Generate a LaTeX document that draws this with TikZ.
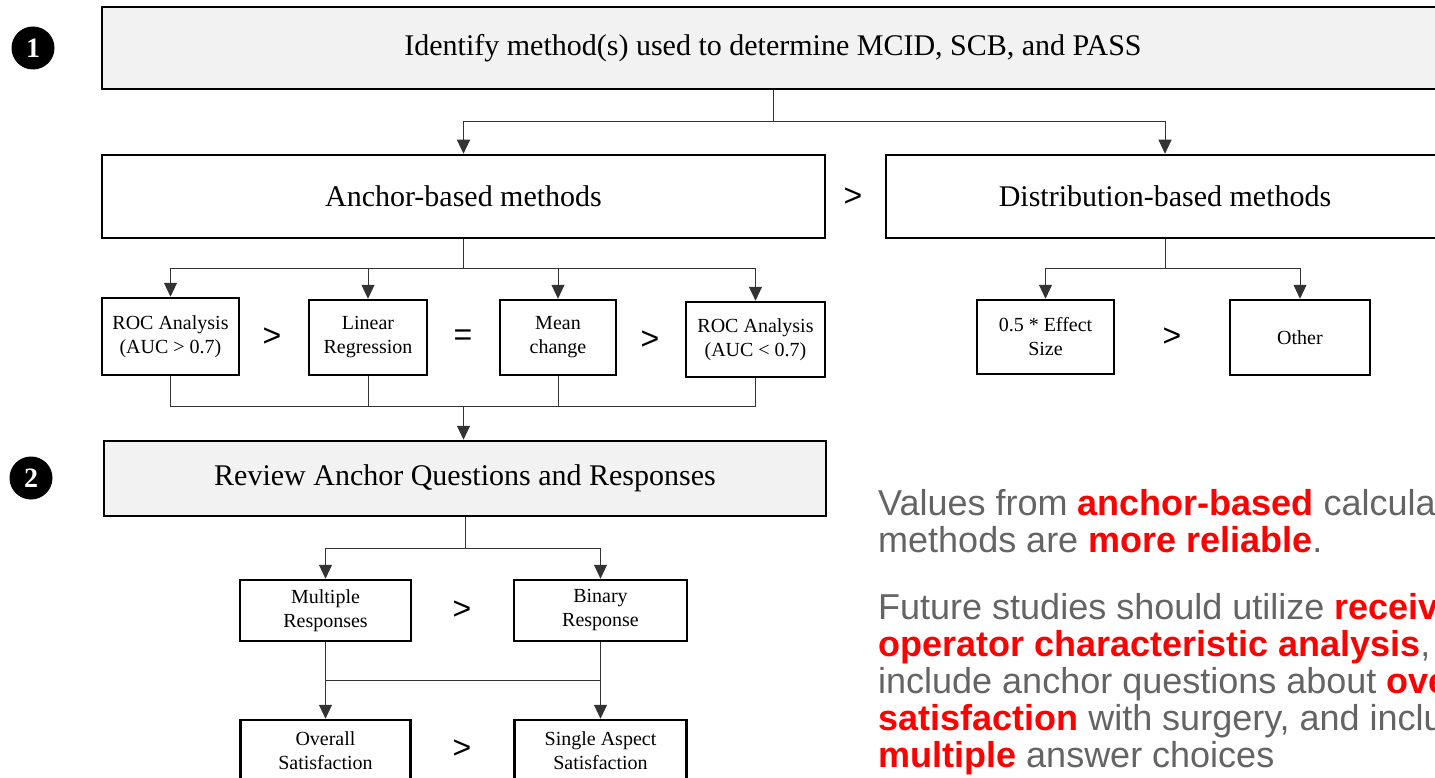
\documentclass[tikz,border=0pt]{standalone}
\usepackage{fontspec}
\setmainfont{Liberation Serif}
\newfontfamily\arialfont{Liberation Sans}
\usepackage{tikz}
\usetikzlibrary{arrows.meta}
\definecolor{boxgray}{RGB}{242,242,242}
\definecolor{notegray}{RGB}{100,100,100}
\definecolor{notered}{RGB}{255,0,0}
\tikzstyle{bigbox}   = [draw,line width=2.5pt,inner sep=0pt,font=\fontsize{30}{36}\selectfont]
\tikzstyle{greybox}  = [bigbox,fill=boxgray]
\tikzstyle{smallbox} = [draw,line width=2.5pt,inner sep=0pt,align=center,font=\fontsize{20}{24}\selectfont]
\tikzstyle{gt}       = [inner sep=0pt,font=\arialfont\fontsize{32}{32}\selectfont]
\tikzstyle{num}      = [circle,fill=black,text=white,minimum size=43pt,inner sep=0pt,font=\fontsize{28}{28}\selectfont\bfseries]
\tikzstyle{note}     = [anchor=base west,inner sep=0pt,text=notegray,font=\arialfont\fontsize{36}{37}\selectfont]
\tikzstyle{link}     = [line width=1pt,black!80]
\newcommand{\hl}[1]{\textcolor{notered}{\bfseries #1}}

\begin{document}
\begin{tikzpicture}[x=1pt,y=-1pt,>={Triangle[length=14pt,width=13pt]}]

\useasboundingbox (0,0) rectangle (1435,778);
\fill[white] (0,0) rectangle (1435,778);
\clip (0,0) rectangle (1435,778);

% step 1
\node[num] (c1) at (33,48) {1};
\node[greybox,minimum width=1342pt,minimum height=82pt] (M) at (773,48)
    {Identify method(s) used to determine MCID, SCB, and PASS};

\node[bigbox,minimum width=723pt,minimum height=83pt] (A) at (463.5,196.5) {Anchor-based methods};
\node[gt] (g0) at (853,197) {>};
\node[bigbox,minimum width=558pt,minimum height=83pt] (D) at (1165,196.5) {Distribution-based methods};

\node[smallbox,minimum width=137pt,minimum height=77pt] (A1) at (170.5,336.5) {ROC Analysis\\(AUC > 0.7)};
\node[gt] (g1) at (272,337) {>};
\node[smallbox,minimum width=118pt,minimum height=75pt] (A2) at (368,337.5) {Linear\\Regression};
\node[gt] (g2) at (463,338) {=};
\node[smallbox,minimum width=116pt,minimum height=75pt] (A3) at (558,337.5) {Mean\\change};
\node[gt] (g3) at (650,340) {>};
\node[smallbox,minimum width=139pt,minimum height=75pt] (A4) at (755.5,339.5) {ROC Analysis\\(AUC < 0.7)};

\node[smallbox,minimum width=137pt,minimum height=74pt] (D1) at (1045.5,337) {0.5 * Effect\\Size};
\node[gt] (g4) at (1172,337) {>};
\node[smallbox,minimum width=140pt,minimum height=75pt] (D2) at (1300,337.5) {Other};

% step 2
\node[num] (c2) at (31,478) {2};
\node[greybox,minimum width=722pt,minimum height=75pt] (R) at (465,478.5)
    {Review Anchor Questions and Responses};

\node[smallbox,minimum width=171pt,minimum height=61pt] (Q1) at (325.5,610.5) {Multiple\\Responses};
\node[gt] (g5) at (462,610) {>};
\node[smallbox,minimum width=173pt,minimum height=61pt] (Q2) at (600.5,610.5) {Binary\\Response};

\node[smallbox,minimum width=170pt,minimum height=62pt] (S1) at (325.5,751) {Overall\\Satisfaction};
\node[gt] (g6) at (462,749) {>};
\node[smallbox,minimum width=172pt,minimum height=62pt] (S2) at (600.5,751) {Single Aspect\\Satisfaction};

% connectors
\coordinate (j0) at (773,122);
\draw[link] (M.south -| j0) -- (j0);
\draw[link,->] (j0) -| (A.north);
\draw[link,->] (j0) -| (D.north);

\coordinate (j1) at (463.5,268);
\draw[link] (A.south) -- (j1);
\foreach \n in {A1,A2,A3,A4}
    \draw[link,->] (j1) -| (\n.north);

\coordinate (j2) at (463.5,406);
\foreach \n in {A1,A2,A3,A4}
    \draw[link] (\n.south) |- (j2);
\draw[link,->] (j2) -- (j2 |- R.north);

\coordinate (j3) at (1165,268);
\draw[link] (D.south) -- (j3);
\draw[link,->] (j3) -| (D1.north);
\draw[link,->] (j3) -| (D2.north);

\coordinate (j4) at (465,548);
\draw[link] (R.south) -- (j4);
\draw[link,->] (j4) -| (Q1.north);
\draw[link,->] (j4) -| (Q2.north);

\coordinate (j5) at (325.5,680);
\coordinate (j6) at (600.5,680);
\draw[link] (Q1.south) -- (j5) -- (j6);
\draw[link] (Q2.south) -- (j6);
\draw[link,->] (j5) -- (S1.north);
\draw[link,->] (j6) -- (S2.north);

% take-home text
\node[note] (n1) at (878,515) {Values from \hl{anchor-based} calculation};
\node[note] (n2) at (878,552) {methods are \hl{more reliable}.};
\node[note] (n3) at (878,619) {Future studies should utilize \hl{receiver}};
\node[note] (n4) at (878,656) {\hl{operator characteristic analysis},};
\node[note] (n5) at (878,693) {include anchor questions about \hl{overall}};
\node[note] (n6) at (878,730) {\hl{satisfaction} with surgery, and include};
\node[note] (n7) at (878,767) {\hl{multiple} answer choices};

\end{tikzpicture}
\end{document}
